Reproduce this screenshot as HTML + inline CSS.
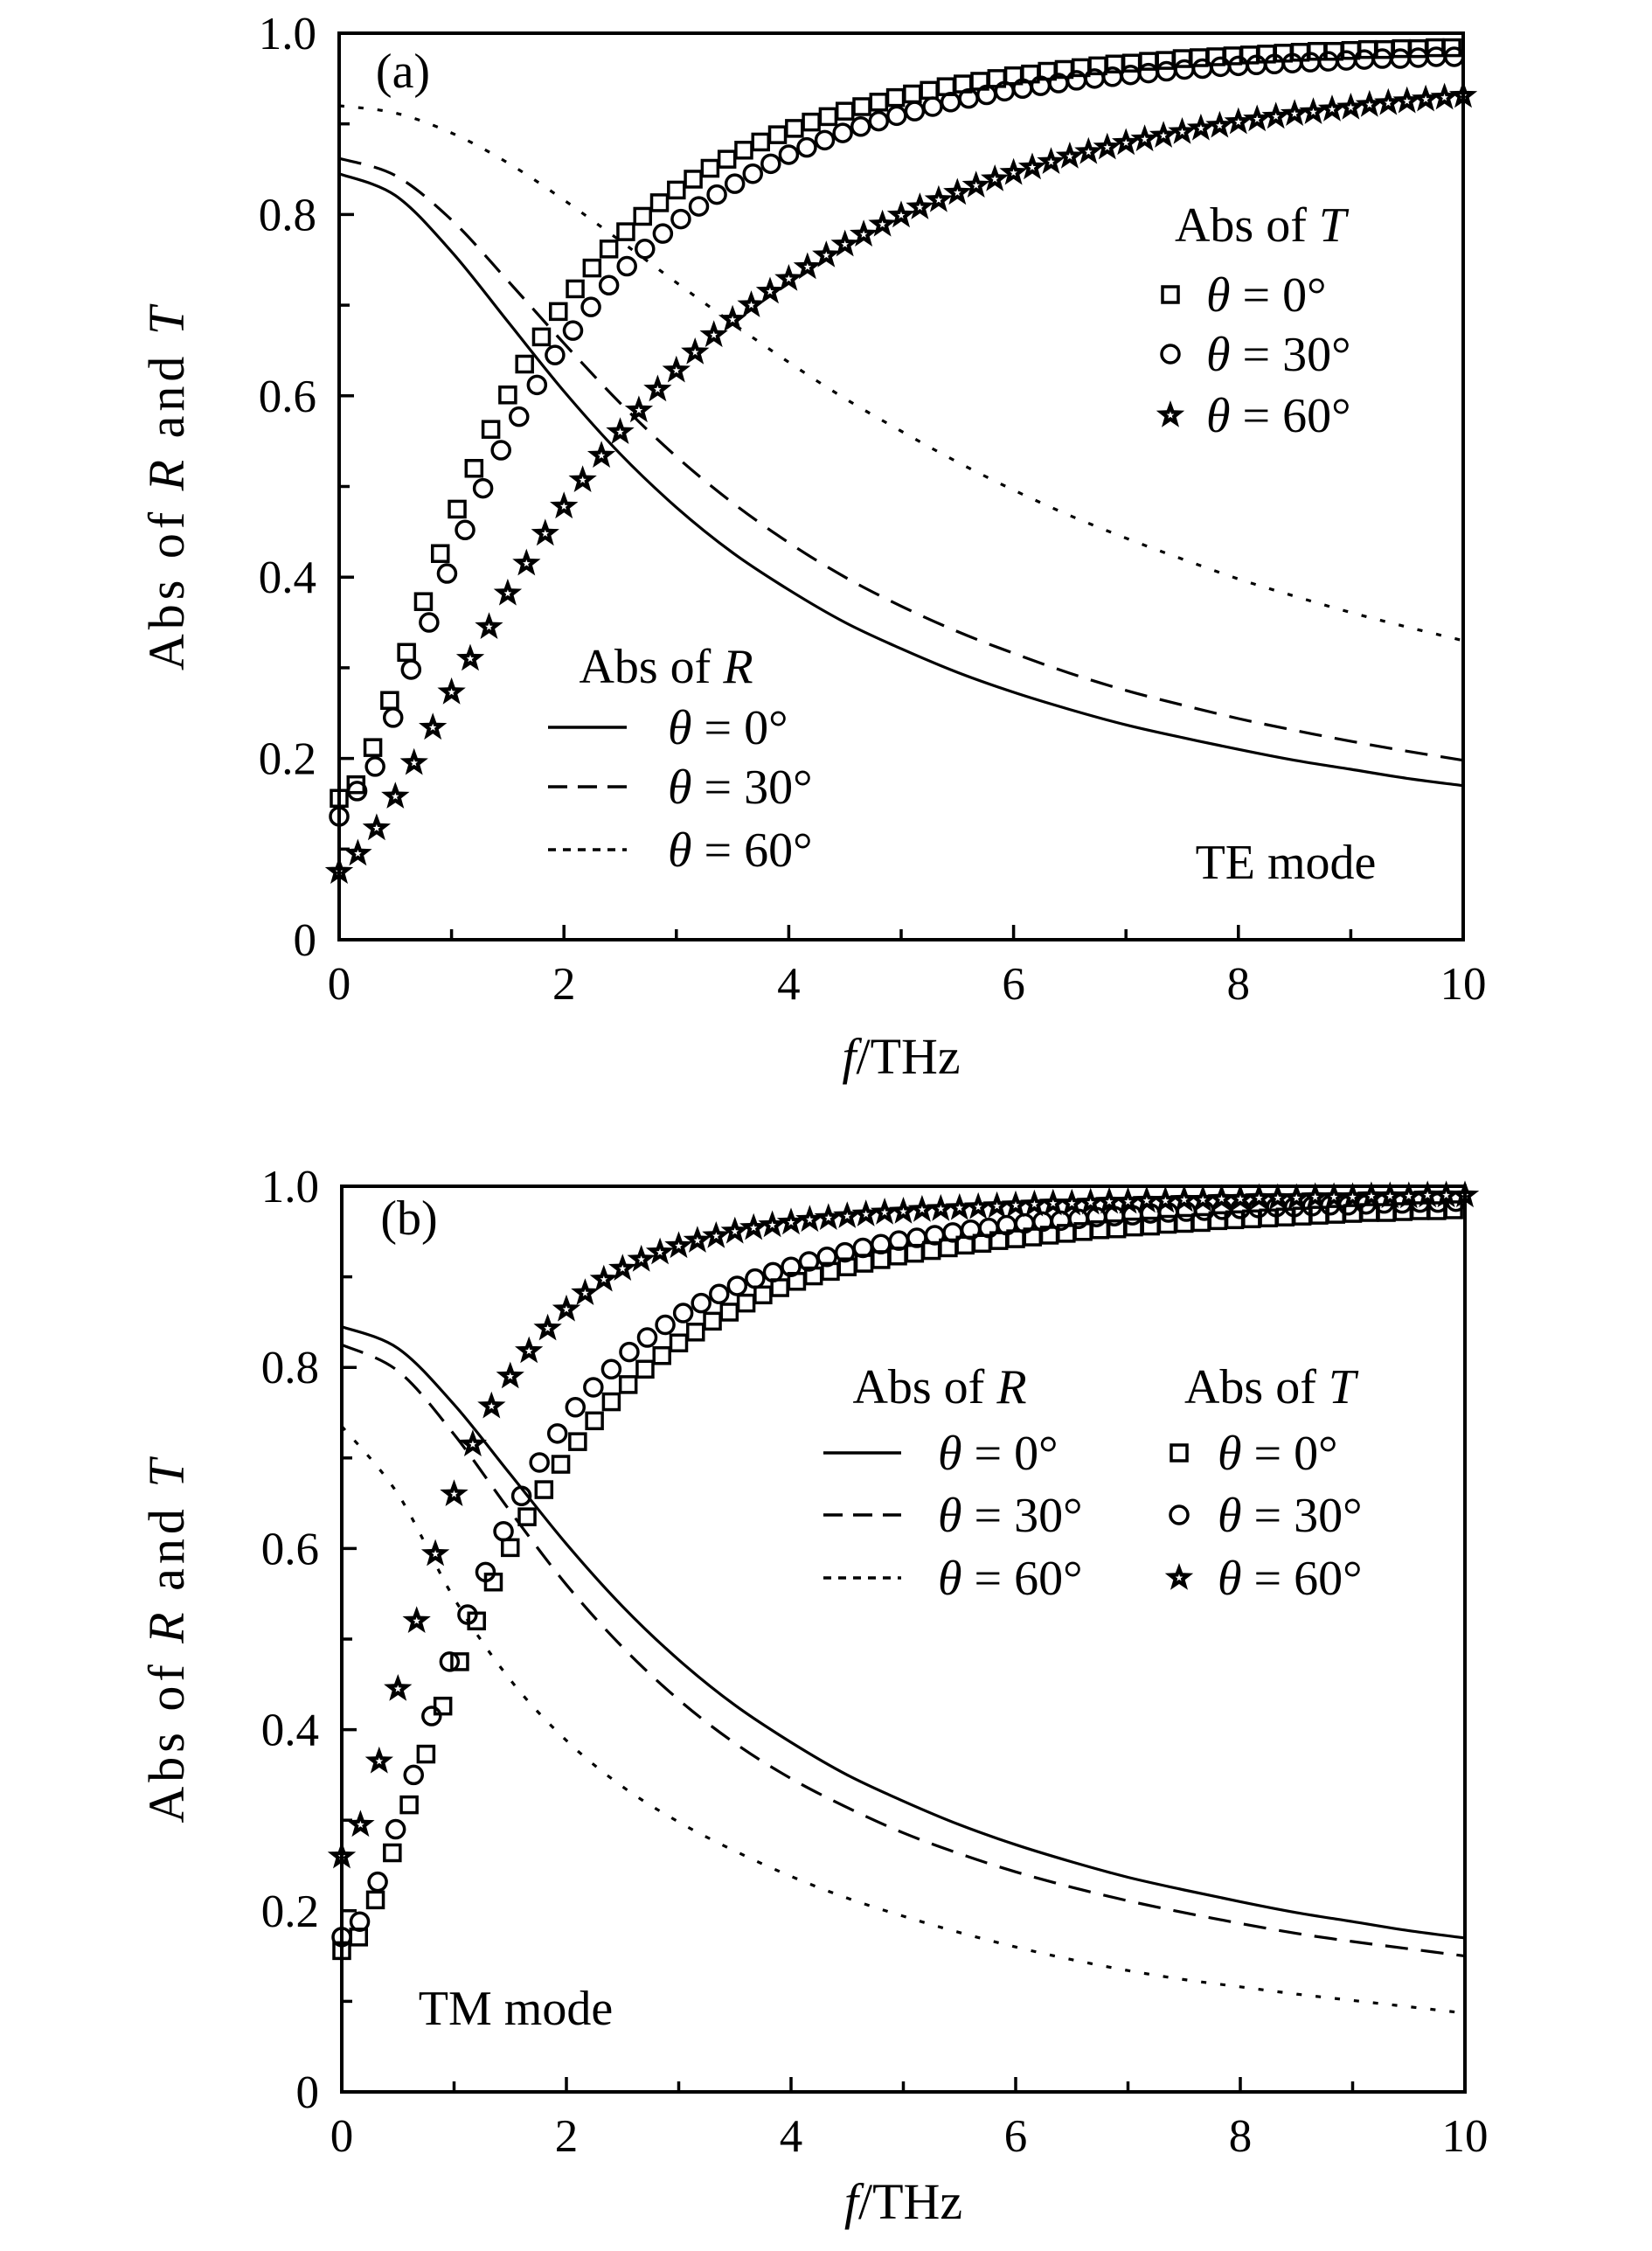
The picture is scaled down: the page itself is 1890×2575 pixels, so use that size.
<!DOCTYPE html>
<html><head><meta charset="utf-8">
<style>
html,body{margin:0;padding:0;background:#fff;}
svg{display:block;font-family:"Liberation Serif",serif;}
.tk{font-size:53px;fill:#000;}
.lg{font-size:56px;fill:#000;}
.ax{font-size:58px;fill:#000;}
</style></head>
<body>
<svg id="fig" width="1890" height="2575" viewBox="0 0 1890 2575" xmlns="http://www.w3.org/2000/svg"></svg>
<script>
// ---------- data ----------
const xTicks = [0,2,4,6,8,10];
const xTickLabels = ["0","2","4","6","8","10"];
const yTicks = [0,0.2,0.4,0.6,0.8,1.0];
const yTickLabels = ["0","0.2","0.4","0.6","0.8","1.0"];
const lineFreq = [0,0.5,1,1.5,2,2.5,3,3.5,4,4.5,5,5.5,6,6.5,7,7.5,8,8.5,9,9.5,10];
// panel (a) TE: reflection
const Ra0 = [.845,.821,.759,.682,.605,.536,.477,.427,.386,.350,.321,.295,.273,.254,.237,.223,.210,.198,.188,.178,.170];
const Ra30 = [.862,.843,.794,.727,.658,.592,.533,.482,.438,.400,.368,.340,.316,.294,.275,.259,.244,.231,.219,.208,.198];
const Ra60 = [.920,.912,.890,.857,.816,.771,.725,.680,.637,.597,.561,.527,.496,.468,.443,.420,.398,.379,.361,.345,.330];
// panel (a) TE: transmission
const stepSq = 0.15, stepCi = 0.16, stepSt = 1/6;
const Ta0 = [.156,.171,.212,.264,.317,.373,.426,.475,.520,.563,.601,.635,.665,.693,.718,.741,.762,.781,.798,.813,.827,.839,.851,.861,.871,.880,.888,.895,.902,.908,.914,.919,.924,.929,.933,.937,.941,.944,.947,.950,.953,.955,.958,.960,.962,.964,.966,.967,.969,.970,.972,.973,.974,.975,.976,.977,.978,.979,.980,.980,.981,.982,.982,.983,.983,.984,.984];
const Ta30 = [.136,.164,.191,.245,.298,.350,.404,.452,.498,.540,.577,.612,.645,.672,.698,.722,.743,.762,.779,.795,.809,.822,.834,.845,.856,.866,.874,.882,.890,.897,.903,.909,.914,.919,.924,.928,.932,.936,.939,.942,.945,.948,.950,.952,.954,.956,.958,.960,.961,.963,.964,.965,.966,.967,.968,.969,.970,.971,.972,.972,.973,.974,.974];
const Ta60 = [.075,.095,.123,.158,.195,.234,.273,.310,.345,.382,.415,.448,.478,.507,.534,.560,.584,.607,.628,.648,.667,.684,.700,.715,.729,.742,.755,.767,.778,.789,.799,.808,.816,.824,.832,.839,.846,.852,.858,.864,.869,.874,.879,.883,.887,.891,.895,.898,.902,.905,.908,.911,.913,.916,.918,.921,.923,.925,.927,.929,.931];
// panel (b) TM: reflection
const Rb0 = [.845,.821,.759,.682,.605,.536,.477,.427,.386,.350,.321,.295,.273,.254,.237,.223,.210,.198,.188,.178,.170];
const Rb30 = [.825,.796,.726,.641,.560,.491,.433,.385,.346,.314,.286,.263,.243,.226,.211,.198,.186,.175,.166,.158,.150];
const Rb60 = [.735,.660,.545,.455,.388,.337,.298,.266,.238,.214,.194,.176,.160,.146,.134,.124,.116,.108,.101,.094,.087];
// panel (b) TM: transmission
const Tb0 = [.156,.171,.212,.264,.317,.373,.426,.475,.520,.563,.601,.635,.665,.693,.718,.741,.762,.781,.798,.813,.827,.839,.851,.861,.871,.880,.888,.895,.901,.906,.911,.915,.919,.923,.926,.929,.932,.935,.937,.940,.942,.944,.946,.948,.950,.952,.953,.955,.956,.958,.959,.960,.962,.963,.964,.965,.966,.967,.968,.969,.970,.971,.971,.972,.973,.973,.974];
const Tb30 = [.171,.188,.232,.290,.350,.415,.475,.527,.574,.619,.658,.695,.727,.756,.778,.798,.817,.833,.847,.860,.871,.881,.890,.898,.905,.911,.917,.922,.927,.932,.936,.940,.943,.946,.949,.952,.954,.957,.959,.961,.962,.964,.966,.967,.968,.970,.971,.972,.973,.974,.975,.976,.977,.977,.978,.979,.979,.980,.981,.981,.982,.982,.983];
const Tb60 = [.260,.295,.365,.445,.520,.594,.660,.715,.757,.790,.818,.843,.864,.882,.897,.909,.919,.927,.934,.940,.945,.950,.954,.957,.960,.963,.965,.967,.969,.971,.972,.974,.975,.976,.977,.978,.979,.980,.981,.981,.982,.983,.983,.984,.984,.985,.985,.986,.986,.987,.987,.987,.988,.988,.988,.989,.989,.989,.990,.990,.990];

const NS = "http://www.w3.org/2000/svg";
const svg = document.getElementById('fig');
function mk(tag, attrs, parent){
  const e = document.createElementNS(NS, tag);
  for (const k in attrs) e.setAttribute(k, attrs[k]);
  (parent||svg).appendChild(e);
  return e;
}
function catmull(pts){
  let d = "M"+pts[0][0].toFixed(1)+","+pts[0][1].toFixed(1);
  for (let i=0;i<pts.length-1;i++){
    const p0=pts[Math.max(0,i-1)], p1=pts[i], p2=pts[i+1], p3=pts[Math.min(pts.length-1,i+2)];
    const c1=[p1[0]+(p2[0]-p0[0])/6, p1[1]+(p2[1]-p0[1])/6];
    const c2=[p2[0]-(p3[0]-p1[0])/6, p2[1]-(p3[1]-p1[1])/6];
    d+=" C"+c1[0].toFixed(1)+","+c1[1].toFixed(1)+" "+c2[0].toFixed(1)+","+c2[1].toFixed(1)+" "+p2[0].toFixed(1)+","+p2[1].toFixed(1);
  }
  return d;
}
function starPath(cx,cy,R,r){
  let d="";
  for(let k=0;k<10;k++){
    const a=-Math.PI/2+k*Math.PI/5, rr=(k%2===0)?R:r;
    d+=(k===0?"M":"L")+(cx+rr*Math.cos(a)).toFixed(1)+","+(cy+rr*Math.sin(a)).toFixed(1);
  }
  return d+"Z";
}
const dashes = {solid:null, dash:"26 15", dot:"6 16"};

function drawMarker(g, type, x, y){
  let el;
  if (type==='sq'){
    el = mk('rect',{x:x-9,y:y-9,width:18,height:18,fill:'none',stroke:'#000','stroke-width':3.5},g);
  } else if (type==='ci'){
    el = mk('circle',{cx:x,cy:y,r:10,fill:'none',stroke:'#000','stroke-width':3.5},g);
  } else {
    el = mk('path',{d:starPath(x,y,17,7),fill:'#000'},g);
    mk('path',{d:starPath(x,y,4.5,1.9),fill:'#fff'},g);
  }
  return el;
}

function panel(opt){
  const L=opt.L,R=opt.R,T=opt.T,B=opt.B;
  const sx = f => L + (f/10)*(R-L);
  const sy = v => B - v*(B-T);
  const g = mk('g',{});
  
  
  const tg = mk('g',{},g);
  
  
  for(let f=1; f<10; f++){
    const len = (f%2===0)?17:12;
    mk('line',{x1:sx(f),x2:sx(f),y1:B,y2:B-len,stroke:'#000','stroke-width':3.5},tg);
  }
  for(let k=1;k<10;k++){
    const len = (k%2===0)?17:12;
    mk('line',{x1:L,x2:L+len,y1:sy(k/10),y2:sy(k/10),stroke:'#000','stroke-width':3.5},tg);
  }
  xTicks.forEach((t,i)=>{
    const tx = mk('text',{x:sx(t),y:B+68,'text-anchor':'middle',class:'tk'},g);
    tx.textContent = xTickLabels[i];
    
    
  });
  yTicks.forEach((t,i)=>{
    const tx = mk('text',{x:L-26,y:sy(t)+18,'text-anchor':'end',class:'tk'},g);
    tx.textContent = yTickLabels[i];
    
    
  });
  opt.lines.forEach(ln=>{
    const pts = lineFreq.map((f,i)=>[sx(f), sy(ln.vals[i])]);
    const p = mk('path',{d:catmull(pts),fill:'none',stroke:'#000','stroke-width':3.2},g);
    if (dashes[ln.style]) p.setAttribute('stroke-dasharray', dashes[ln.style]);
    
    
  });
  opt.markers.forEach(ms=>{
    const mg = mk('g',{},g);
    
    
    ms.vals.forEach((v,i)=>{
      const f = i*ms.step;
      if (f>10.001) return;
      const el = drawMarker(mg, ms.type, sx(f), sy(v));
      
      
    });
  });
  const fr = mk('rect',{x:L,y:T,width:R-L,height:B-T,fill:'none',stroke:'#000','stroke-width':4},g);
  
  
  const xt = mk('text',{x:(L+R)/2,y:opt.xTitleY,'text-anchor':'middle',class:'ax'},g);
  xt.innerHTML = '<tspan font-style="italic">f</tspan>/THz';
  
  
  const cy=(T+B)/2;
  const yt = mk('text',{x:210,y:cy,'text-anchor':'middle',class:'ax',transform:'rotate(-90 210 '+cy+')','letter-spacing':'5'},g);
  yt.innerHTML = 'Abs of <tspan font-style="italic">R</tspan> and <tspan font-style="italic">T</tspan>';
  
  
  const pl = mk('text',{x:opt.tagX,y:opt.tagY,'text-anchor':'middle',class:'lg'},g);
  pl.textContent = opt.tag;
  
  
  const md = mk('text',{x:opt.modeX,y:opt.modeY,'text-anchor':'middle',class:'lg'},g);
  md.textContent = opt.mode;
  
  
  return g;
}
function legendText(g,x,y,html,anchor){
  const t = mk('text',{x:x,y:y,class:'lg','text-anchor':anchor||'start'},g);
  t.innerHTML = html;
  return t;
}
const thetaLbl = ['<tspan font-style="italic">θ</tspan> = 0°','<tspan font-style="italic">θ</tspan> = 30°','<tspan font-style="italic">θ</tspan> = 60°'];

const ga = panel({name:'panel-a-te',L:388,R:1674,T:38,B:1075,xTitleY:1228,tag:'(a)',tagX:461,tagY:100,mode:'TE mode',modeX:1471,modeY:1005,
  lines:[{name:'r-te-0deg',vals:Ra0,style:'solid'},{name:'r-te-30deg',vals:Ra30,style:'dash'},{name:'r-te-60deg',vals:Ra60,style:'dot'}],
  markers:[{name:'t-te-0deg',vals:Ta0,step:stepSq,type:'sq'},{name:'t-te-30deg',vals:Ta30,step:stepCi,type:'ci'},{name:'t-te-60deg',vals:Ta60,step:stepSt,type:'st'}]});
const gb = panel({name:'panel-b-tm',L:391,R:1676,T:1357,B:2393,xTitleY:2538,tag:'(b)',tagX:468,tagY:1412,mode:'TM mode',modeX:590,modeY:2316,
  lines:[{name:'r-tm-0deg',vals:Rb0,style:'solid'},{name:'r-tm-30deg',vals:Rb30,style:'dash'},{name:'r-tm-60deg',vals:Rb60,style:'dot'}],
  markers:[{name:'t-tm-0deg',vals:Tb0,step:stepSq,type:'sq'},{name:'t-tm-30deg',vals:Tb30,step:stepCi,type:'ci'},{name:'t-tm-60deg',vals:Tb60,step:stepSt,type:'st'}]});

const lgT = mk('g',{});


legendText(lgT,1442,276,'Abs of <tspan font-style="italic">T</tspan>','middle');
['sq','ci','st'].forEach((t,i)=>{
  const y=[337,405,475][i];
  drawMarker(lgT,t,1339,y);
  legendText(lgT,1380,y+19,thetaLbl[i]);
});
const lgR = mk('g',{});


legendText(lgR,762,781,'Abs of <tspan font-style="italic">R</tspan>','middle');
['solid','dash','dot'].forEach((s,i)=>{
  const y=[832,900,972][i];
  const l=mk('line',{x1:627,x2:717,y1:y,y2:y,stroke:'#000','stroke-width':3.5},lgR);
  if(dashes[s]) l.setAttribute('stroke-dasharray', s==='dash'?'22 12':'9 8');
  legendText(lgR,764,y+19,thetaLbl[i]);
});
const lgRb = mk('g',{});


legendText(lgRb,1075,1605,'Abs of <tspan font-style="italic">R</tspan>','middle');
['solid','dash','dot'].forEach((s,i)=>{
  const y=[1662,1733,1805][i];
  const l=mk('line',{x1:942,x2:1031,y1:y,y2:y,stroke:'#000','stroke-width':3.5},lgRb);
  if(dashes[s]) l.setAttribute('stroke-dasharray', s==='dash'?'22 12':'9 8');
  legendText(lgRb,1073,y+19,thetaLbl[i]);
});
const lgTb = mk('g',{});


legendText(lgTb,1453,1605,'Abs of <tspan font-style="italic">T</tspan>','middle');
['sq','ci','st'].forEach((t,i)=>{
  const y=[1662,1733,1805][i];
  drawMarker(lgTb,t,1349,y);
  legendText(lgTb,1393,y+19,thetaLbl[i]);
});
</script>
</body></html>
